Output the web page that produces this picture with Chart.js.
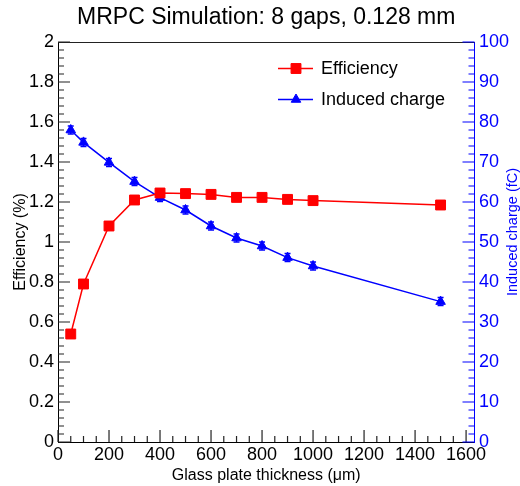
<!DOCTYPE html>
<html>
<head>
<meta charset="utf-8">
<script src="https://cdn.jsdelivr.net/npm/chart.js@4.4.0/dist/chart.umd.min.js"></script>
<style>
  html, body { margin: 0; padding: 0; background: #fff; }
  #wrap { width: 520px; height: 486px; }
</style>
</head>
<body>
<div id="wrap"><canvas id="chart" width="520" height="486"></canvas></div>
<script>
// Values
const thickness = [50, 100, 200, 300, 400, 500, 600, 700, 800, 900, 1000, 1500];
const efficiency = [0.54, 0.79, 1.08, 1.21, 1.245, 1.242, 1.238, 1.223, 1.223, 1.213, 1.207, 1.185];
const charge = [78.0, 74.9, 69.9, 65.1, 61.1, 58.0, 54.0, 51.0, 49.0, 46.1, 44.0, 35.1];
const chargeErr = [1, 1, 1, 1, 1, 1, 1, 1, 1, 1, 1, 1];

// Tick labels
const xTicks = [0, 200, 400, 600, 800, 1000, 1200, 1400, 1600];
const effTicks = [0, 0.2, 0.4, 0.6, 0.8, 1, 1.2, 1.4, 1.6, 1.8, 2];
const chargeTicks = [0, 10, 20, 30, 40, 50, 60, 70, 80, 90, 100];

const red = 'rgb(255, 0, 0)';
const blue = 'rgb(0, 0, 255)';

Chart.defaults.font.family = "'Liberation Sans', Arial, sans-serif";
Chart.defaults.color = '#000';
Chart.defaults.animation = false;

const toTicks = list => scale => { scale.ticks = list.map(v => ({ value: v })); };
const fmt = v => String(+Number(v).toFixed(2));

// ROOT style frame: top border plus inward major/minor ticks
function drawFrameTicks(chart) {
    const ctx = chart.ctx;
    const a = chart.chartArea;
    const xs = chart.scales.x;
    const ys = chart.scales.y;
    const rs = chart.scales.y1;
    ctx.save();
    ctx.lineWidth = 1.2;
    ctx.strokeStyle = '#222';
    ctx.beginPath();
    ctx.moveTo(a.left, a.top + 0.5);
    ctx.lineTo(a.right, a.top + 0.5);
    for (let i = 0; i * 50 <= 1600; i++) {
        const px = xs.getPixelForValue(i * 50);
        ctx.moveTo(px, a.bottom);
        ctx.lineTo(px, a.bottom - (i % 4 === 0 ? 12 : 6));
    }
    for (let i = 0; i <= 50; i++) {
        const py = ys.getPixelForValue(i * 0.04);
        ctx.moveTo(a.left, py);
        ctx.lineTo(a.left + (i % 5 === 0 ? 12 : 6), py);
    }
    ctx.stroke();

    ctx.strokeStyle = blue;
    ctx.beginPath();
    for (let i = 0; i <= 50; i++) {
        const py = rs.getPixelForValue(i * 2);
        ctx.moveTo(a.right, py);
        ctx.lineTo(a.right - (i % 5 === 0 ? 12 : 6), py);
    }
    ctx.stroke();
    ctx.restore();
}

// vertical error bars on the induced charge points
const errorBars = {
    id: 'errorBars',
    beforeDatasetDraw(chart, args) {
        if (args.index !== 1) return;
        const ctx = chart.ctx;
        const y1 = chart.scales.y1;
        const meta = chart.getDatasetMeta(1);
        ctx.save();
        ctx.strokeStyle = blue;
        ctx.lineWidth = 1.5;
        meta.data.forEach((pt, i) => {
            const top = y1.getPixelForValue(charge[i] + chargeErr[i]);
            const bot = y1.getPixelForValue(charge[i] - chargeErr[i]);
            ctx.beginPath();
            ctx.moveTo(pt.x, top); ctx.lineTo(pt.x, bot);
            ctx.moveTo(pt.x - 3, top); ctx.lineTo(pt.x + 3, top);
            ctx.moveTo(pt.x - 3, bot); ctx.lineTo(pt.x + 3, bot);
            ctx.stroke();
        });
        ctx.restore();
    }
};

// ticks, legend inside the frame, and the upward-reading right axis title
const overlay = {
    id: 'overlay',
    afterDraw(chart) {
        drawFrameTicks(chart);
        const ctx = chart.ctx;
        const a = chart.chartArea;
        ctx.save();
        chart.data.datasets.forEach((ds, i) => {
            const ly = a.top + 26.5 + i * 31;
            const lx = a.left + 220;
            ctx.strokeStyle = ds.borderColor;
            ctx.fillStyle = ds.backgroundColor;
            ctx.lineWidth = 1.5;
            ctx.beginPath();
            ctx.moveTo(lx, ly); ctx.lineTo(lx + 35, ly);
            ctx.stroke();
            ctx.lineWidth = ds.pointBorderWidth;
            Chart.helpers.drawPoint(ctx, {
                pointStyle: ds.pointStyle,
                radius: ds.pointRadius,
                rotation: 0,
                borderWidth: ds.pointBorderWidth
            }, lx + 18, ly);
            ctx.fillStyle = '#000';
            ctx.font = "18px 'Liberation Sans', Arial, sans-serif";
            ctx.textAlign = 'left';
            ctx.textBaseline = 'middle';
            ctx.fillText(ds.label, lx + 43, ly + 1);
        });

        ctx.translate(chart.width - 7, a.top + (a.bottom - a.top) * 0.475);
        ctx.rotate(-Math.PI / 2);
        ctx.fillStyle = blue;
        ctx.font = "14.5px 'Liberation Sans', Arial, sans-serif";
        ctx.textAlign = 'center';
        ctx.textBaseline = 'middle';
        ctx.fillText('Induced charge (fC)', 0, 0);
        ctx.restore();
    }
};

const ctx = document.getElementById('chart').getContext('2d');
new Chart(ctx, {
    type: 'line',
    data: {
        datasets: [{
            label: 'Efficiency',
            data: thickness.map((t, i) => ({ x: t, y: efficiency[i] })),
            yAxisID: 'y',
            borderColor: red,
            backgroundColor: red,
            borderWidth: 1.5,
            pointStyle: 'rect',
            pointRadius: 7,
            pointBorderWidth: 1,
            pointBackgroundColor: red,
            pointBorderColor: red,
            tension: 0
        }, {
            label: 'Induced charge',
            data: thickness.map((t, i) => ({ x: t, y: charge[i] })),
            yAxisID: 'y1',
            borderColor: blue,
            backgroundColor: blue,
            borderWidth: 1.5,
            pointStyle: 'triangle',
            pointRadius: 5.5,
            pointBorderWidth: 1,
            pointBackgroundColor: blue,
            pointBorderColor: blue,
            tension: 0
        }]
    },
    options: {
        responsive: false,
        layout: { padding: 0 },
        plugins: {
            legend: { display: false },
            tooltip: { enabled: false },
            title: {
                display: true,
                text: 'MRPC Simulation: 8 gaps, 0.128 mm',
                fullSize: false,
                color: '#000',
                font: { size: 23, weight: 'normal' },
                padding: { top: 3.5, bottom: 10.9 }
            }
        },
        scales: {
            x: {
                type: 'linear',
                min: 0,
                max: 1633,
                afterBuildTicks: toTicks(xTicks),
                afterFit: s => { s.height = 44; },
                grid: { display: false, drawTicks: false },
                border: { display: true, color: '#000', width: 1 },
                ticks: { font: { size: 18 }, padding: 2, maxRotation: 0, autoSkip: false, callback: fmt },
                title: {
                    display: true,
                    text: 'Glass plate thickness (μm)',
                    font: { size: 16 },
                    padding: { top: 0, bottom: 1 }
                }
            },
            y: {
                position: 'left',
                min: 0,
                max: 2,
                afterBuildTicks: toTicks(effTicks),
                afterFit: s => { s.width = 58; },
                grid: { display: false, drawTicks: false },
                border: { display: true, color: '#000', width: 1 },
                ticks: { font: { size: 18 }, padding: 4, callback: fmt },
                title: {
                    display: true,
                    text: 'Efficiency (%)',
                    font: { size: 16 },
                    padding: { top: 11, bottom: 0 }
                }
            },
            y1: {
                position: 'right',
                min: 0,
                max: 100,
                afterBuildTicks: toTicks(chargeTicks),
                afterFit: s => { s.width = 45.5; },
                grid: { display: false, drawTicks: false, drawOnChartArea: false },
                border: { display: true, color: blue, width: 1 },
                ticks: { font: { size: 18 }, padding: 4.5, color: blue, callback: fmt }
            }
        }
    },
    plugins: [errorBars, overlay]
});
</script>
</body>
</html>
